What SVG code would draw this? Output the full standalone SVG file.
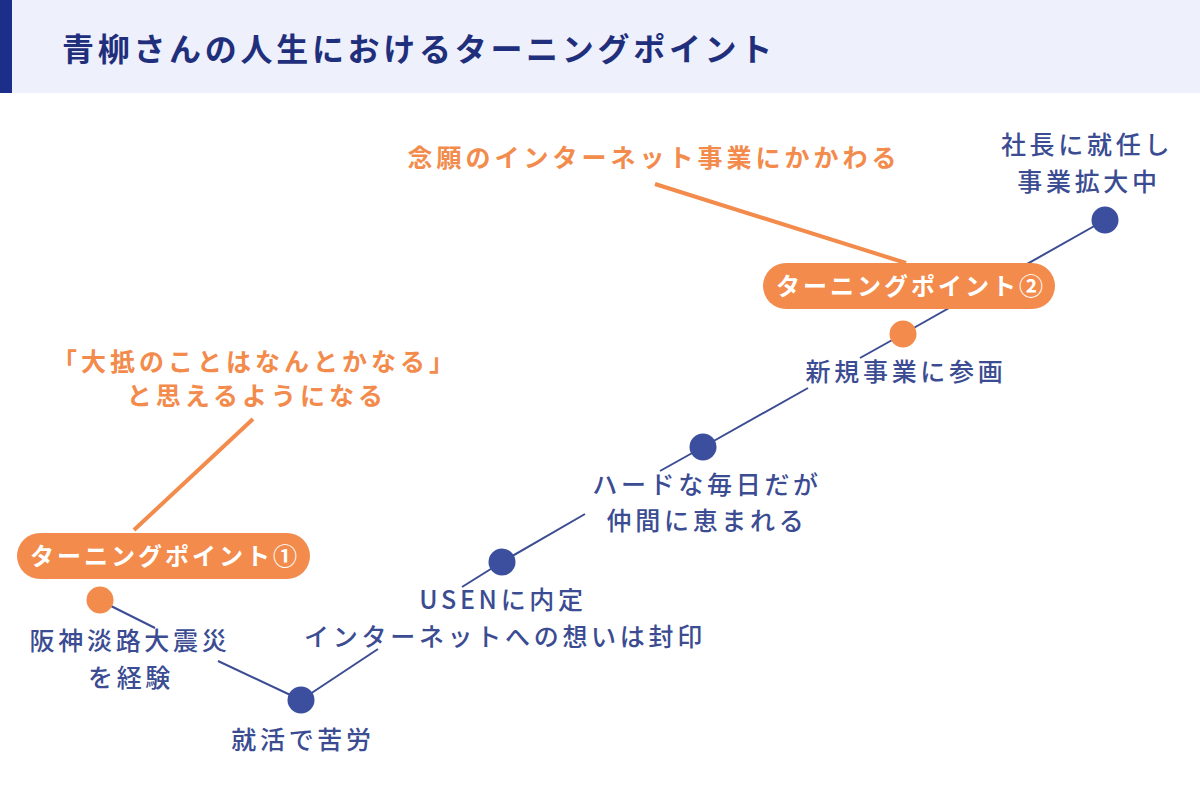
<svg xmlns="http://www.w3.org/2000/svg" width="1200" height="790" viewBox="0 0 1200 790">
<style>
text{font-family:"Noto Sans CJK JP","Noto Sans",sans-serif}
.title{font-size:32px;font-weight:700;fill:#1f2f7c;letter-spacing:3.7px}
.lbl{font-size:25px;font-weight:500;fill:#3b4c92;letter-spacing:3.7px;text-anchor:middle}
.note{font-size:25px;font-weight:700;fill:#f28b4c;letter-spacing:4px;text-anchor:middle}
.pilltxt{font-size:24px;font-weight:700;fill:#ffffff;letter-spacing:3px;text-anchor:middle}
.pill{fill:#f28b4c}
.bl{stroke:#3b4c92;stroke-width:2;fill:none}
.ol{stroke:#f28b4c;stroke-width:4;fill:none}
.bdot{fill:#3b4f9e}
.odot{fill:#f28b4c}
</style>
<g id="header">
<rect x="0" y="0" width="1200" height="93" fill="#eef0fb"/>
<rect x="0" y="0" width="12" height="93" fill="#1b2f8a"/>
<text class="title" x="62" y="61">青柳さんの人生におけるターニングポイント</text>
</g>
<g id="connectors">
<line class="bl" x1="99" y1="600" x2="155" y2="628"/>
<line class="bl" x1="218" y1="661" x2="301" y2="700"/>
<line class="bl" x1="301" y1="700" x2="378" y2="649"/>
<line class="bl" x1="462" y1="587" x2="502" y2="562"/>
<line class="bl" x1="502" y1="562" x2="585" y2="514"/>
<line class="bl" x1="660" y1="471" x2="703" y2="447"/>
<line class="bl" x1="703" y1="447" x2="808" y2="388"/>
<line class="bl" x1="860" y1="358" x2="903" y2="334"/>
<line class="bl" x1="903" y1="334" x2="1105" y2="220"/>
<line class="ol" x1="134" y1="530" x2="253" y2="419"/>
<line class="ol" x1="655" y1="184" x2="906" y2="263"/>
</g>
<g id="tp1">
<rect class="pill" x="17" y="533" width="293" height="46" rx="23"/>
<text class="pilltxt" x="165" y="565">ターニングポイント①</text>
</g>
<g id="tp2">
<rect class="pill" x="763" y="263" width="292" height="46" rx="23"/>
<text class="pilltxt" x="911" y="295">ターニングポイント②</text>
</g>
<g id="note1">
<text class="note" x="255" y="371">「大抵のことはなんとかなる」</text>
<text class="note" x="257" y="405">と思えるようになる</text>
</g>
<g id="note2">
<text class="note" x="654" y="167">念願のインターネット事業にかかわる</text>
</g>
<g id="n1">
<circle class="odot" cx="100" cy="600" r="13.5"/>
<text class="lbl" x="130" y="650">阪神淡路大震災</text>
<text class="lbl" x="131" y="687">を経験</text>
</g>
<g id="n2">
<circle class="bdot" cx="301" cy="700" r="13.5"/>
<text class="lbl" x="303" y="749">就活で苦労</text>
</g>
<g id="n3">
<circle class="bdot" cx="502" cy="562" r="13.5"/>
<text class="lbl" x="503" y="609">USENに内定</text>
<text class="lbl" x="505" y="646">インターネットへの想いは封印</text>
</g>
<g id="n4">
<circle class="bdot" cx="703" cy="447" r="13.5"/>
<text class="lbl" x="707" y="494">ハードな毎日だが</text>
<text class="lbl" x="707" y="530">仲間に恵まれる</text>
</g>
<g id="n5">
<circle class="odot" cx="903" cy="334" r="13.5"/>
<text class="lbl" x="906" y="381">新規事業に参画</text>
</g>
<g id="n6">
<circle class="bdot" cx="1105" cy="220" r="13.5"/>
<text class="lbl" x="1087" y="154">社長に就任し</text>
<text class="lbl" x="1089" y="191">事業拡大中</text>
</g>
</svg>
